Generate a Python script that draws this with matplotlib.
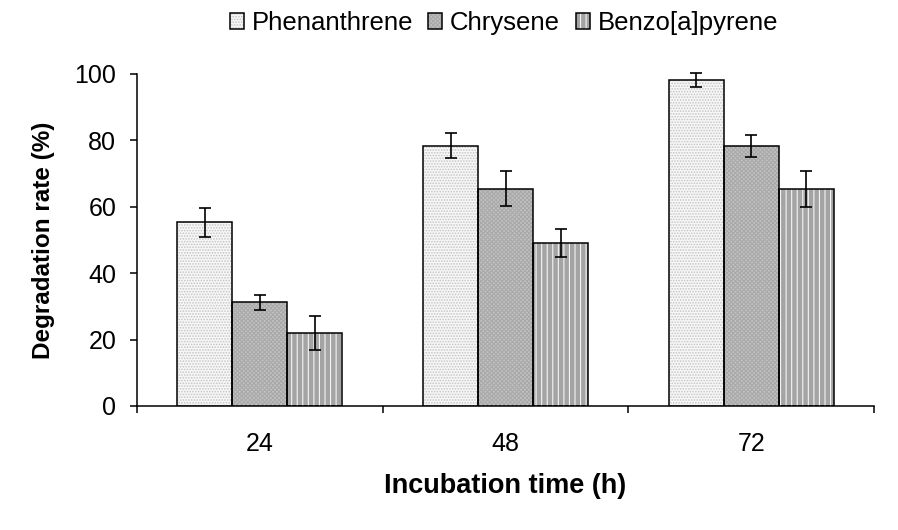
import numpy as np
import matplotlib
matplotlib.use("Agg")
import matplotlib.pyplot as plt
from matplotlib.legend_handler import HandlerTuple

plt.rcParams['font.family'] = ['Liberation Sans', 'DejaVu Sans']
plt.rcParams['hatch.linewidth'] = 0.8

# --------------------------------------------------------------
# Data
# --------------------------------------------------------------
times = ["24", "48", "72"]
compounds = ["Phenanthrene", "Chrysene", "Benzo[a]pyrene"]
phenanthrene = [55.3, 78.4, 98.2]
chrysene = [31.2, 65.5, 78.3]
benzo = [22.0, 49.2, 65.4]
phenanthrene_err = [4.4, 3.7, 2.0]
chrysene_err = [2.3, 5.2, 3.2]
benzo_err = [5.2, 4.2, 5.4]

values = [phenanthrene, chrysene, benzo]
errors = [phenanthrene_err, chrysene_err, benzo_err]

# fill colour, hatch, hatch colour for each compound
styles = [
    ("#f7f7f7", "......", "#c4c4c4"),
    ("#c2c2c2", "xxxxxxxx", "#a9a9a9"),
    ("#a4a4a4", "|||", "#f4f4f4"),
]

fig = plt.figure(figsize=(8.98, 5.30), dpi=100)
ax = fig.add_axes([0.1526, 0.234, 0.8207, 0.6264])

x = np.arange(len(times))
width = 0.224
handles = []
for i, (vals, errs) in enumerate(zip(values, errors)):
    pos = x + (i - 1) * width
    face, hatch, hcol = styles[i]
    base = ax.bar(pos, vals, width, color=face, linewidth=0, zorder=2)
    hat = ax.bar(pos, vals, width, color="none", edgecolor=hcol, hatch=hatch,
                 linewidth=0, zorder=3)
    edge = ax.bar(pos, vals, width, color="none", edgecolor="black",
                  linewidth=1.1, zorder=4)
    eb = ax.errorbar(pos, vals, yerr=errs, fmt="none", ecolor="black",
                     elinewidth=1.2, capsize=4.5, capthick=1.2, zorder=5)
    for art in eb.lines[1] + eb.lines[2]:
        art.set_clip_on(False)
    handles.append((base[0], hat[0], edge[0]))

ax.set_xlim(-0.5, 2.5)
ax.set_ylim(0, 100)
ax.set_yticks([0, 20, 40, 60, 80, 100])
ax.set_xticks(x)
ax.set_xticklabels(times)
ax.set_xticks([-0.5, 0.5, 1.5, 2.5], minor=True)
ax.tick_params(axis="x", which="major", length=0, pad=19, labelsize=18)
ax.tick_params(axis="x", which="minor", length=5, width=1.1, direction="out")
ax.tick_params(axis="y", length=5, width=1.1, pad=10, labelsize=18)

for s in ["top", "right"]:
    ax.spines[s].set_visible(False)
for s in ["left", "bottom"]:
    ax.spines[s].set_linewidth(1.1)

ax.set_xlabel("Incubation time (h)", fontsize=19.5, fontweight="bold", labelpad=12)
ax.set_ylabel("Degradation rate (%)", fontsize=17.5, fontweight="bold", labelpad=14)

fig.legend(handles, compounds, loc="center", bbox_to_anchor=(0.561, 0.956),
           ncol=3, frameon=False, fontsize=18.5, handlelength=0.55,
           handleheight=0.55, handletextpad=0.3, columnspacing=0.6,
           handler_map={tuple: HandlerTuple(ndivide=1)})

fig.savefig("out.png", dpi=100)
